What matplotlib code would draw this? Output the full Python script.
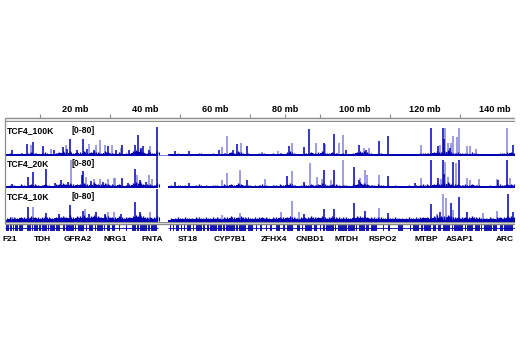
import numpy as np
import matplotlib.pyplot as plt

W, H = 520, 350
CHR_LEN = 145.7
GAP = (43.7, 46.6)

DARK = '#0000b2'
LIGHT = '#8282da'
GREY = '#8c8c8c'
FONT = ['Liberation Sans Narrow', 'Liberation Sans', 'DejaVu Sans']

ruler_labels = [20, 40, 60, 80, 100, 120, 140]
ruler_ticks = [10, 30, 50, 70, 80, 90, 110, 130]

track_names = ['TCF4_100K', 'TCF4_20K', 'TCF4_10K']
track_range = '[0-80]'

# background signal, one value per mb (0 = no data)
bg_100k = [3, 5, 4, 3, 6, 4, 5, 8, 6, 4,
           5, 7, 4, 3, 6, 8, 9, 7, 10, 6,
           8, 7, 9, 6, 8, 10, 7, 6, 9, 8,
           6, 5, 7, 4, 5, 6, 9, 12, 14, 8,
           6, 7, 5, 9, 0, 0, 0, 4, 3, 5,
           3, 4, 3, 2, 4, 6, 3, 4, 3, 5,
           4, 3, 6, 4, 8, 5, 9, 7, 4, 5,
           3, 4, 5, 6, 4, 3, 5, 4, 6, 4,
           7, 9, 5, 3, 4, 6, 4, 8, 5, 7,
           9, 6, 5, 8, 6, 4, 5, 4, 3, 6,
           8, 11, 9, 7, 5, 4, 6, 5, 3, 4,
           3, 4, 3, 2, 3, 4, 3, 4, 5, 6,
           6, 5, 8, 10, 7, 9, 12, 8, 6, 7,
           5, 6, 4, 7, 5, 4, 3, 3, 4, 3,
           4, 6, 5, 7, 8, 6]
bg_20k = [4, 6, 5, 4, 7, 5, 6, 9, 7, 5,
          6, 8, 5, 4, 7, 9, 10, 8, 11, 7,
          9, 8, 10, 7, 9, 12, 8, 7, 10, 9,
          7, 6, 8, 5, 6, 7, 10, 13, 15, 9,
          7, 8, 6, 10, 0, 0, 0, 5, 4, 6,
          4, 5, 4, 3, 5, 7, 4, 5, 4, 6,
          5, 4, 7, 5, 9, 6, 10, 8, 5, 6,
          4, 5, 6, 7, 5, 4, 6, 5, 7, 5,
          8, 10, 6, 4, 5, 7, 5, 9, 6, 8,
          10, 7, 6, 9, 7, 5, 6, 5, 4, 7,
          9, 12, 10, 8, 6, 5, 7, 6, 4, 5,
          4, 5, 4, 3, 4, 5, 4, 5, 6, 7,
          7, 6, 9, 11, 8, 10, 13, 9, 7, 8,
          6, 7, 5, 8, 6, 5, 4, 4, 5, 4,
          5, 7, 6, 8, 9, 7]
bg_10k = [8, 10, 9, 8, 11, 9, 10, 12, 11, 9,
          10, 12, 9, 8, 11, 13, 12, 11, 14, 10,
          13, 12, 14, 11, 13, 15, 12, 11, 14, 13,
          11, 10, 12, 9, 10, 11, 13, 15, 17, 12,
          10, 11, 10, 13, 0, 0, 0, 8, 7, 9,
          8, 9, 8, 7, 9, 10, 8, 9, 8, 10,
          9, 8, 10, 9, 12, 10, 11, 12, 9, 10,
          8, 9, 10, 11, 9, 8, 10, 9, 11, 9,
          11, 12, 10, 8, 9, 11, 9, 12, 10, 11,
          12, 10, 9, 12, 10, 9, 10, 9, 8, 11,
          12, 13, 12, 11, 10, 9, 10, 9, 8, 9,
          8, 9, 8, 7, 8, 9, 8, 9, 10, 11,
          11, 10, 12, 14, 12, 13, 15, 12, 10, 11,
          10, 11, 9, 12, 10, 9, 8, 8, 9, 8,
          9, 11, 10, 12, 13, 11]

# peaks as (position mb, signal)
peaks_100k_dark = [(1.9, 15), (6.4, 33), (7.9, 38), (10.9, 27), (14.0, 14), (16.5, 24),
                   (17.8, 18), (18.6, 46), (20.5, 15), (22.2, 45), (23.5, 18), (25.3, 16),
                   (29.5, 25), (31.8, 15), (33.3, 29), (35.5, 14), (37.0, 30), (38.1, 57),
                   (38.8, 22), (39.5, 25), (41.0, 15), (43.3, 80), (48.5, 12), (52.5, 12),
                   (61.0, 14), (65.0, 14), (66.2, 31), (69.0, 25), (81.0, 27), (85.5, 24),
                   (86.9, 75), (91.0, 36), (94.1, 61), (97.5, 14), (101.2, 29),
                   (103.0, 16), (106.9, 40), (109.5, 54), (121.6, 77), (123.8, 25),
                   (125.2, 77), (125.4, 45), (127.0, 20), (145.2, 30)]
peaks_100k_light = [(7.4, 30), (13.0, 18), (17.3, 29), (24.0, 32), (26.0, 30), (27.1, 42),
                    (28.5, 30), (30.5, 28), (33.0, 20), (41.5, 25), (61.9, 24), (63.3, 54),
                    (67.3, 36), (73.5, 10), (78.0, 12), (81.9, 36), (88.9, 36), (91.3, 32),
                    (95.5, 36), (96.5, 57), (102.5, 22), (104.0, 22), (118.8, 29),
                    (124.2, 30), (125.7, 77), (126.7, 36), (127.3, 36), (128.1, 54),
                    (129.0, 52), (129.8, 77), (131.9, 27), (132.8, 27), (134.5, 18),
                    (143.5, 77)]
peaks_20k_dark = [(1.9, 10), (6.5, 30), (8.1, 45), (11.6, 55), (14.2, 14), (16.0, 20),
                  (18.0, 16), (21.9, 35), (22.4, 47), (24.5, 18), (28.0, 16), (33.3, 27),
                  (35.0, 14), (37.1, 53), (38.6, 22), (40.2, 15), (43.3, 110), (48.5, 17),
                  (52.5, 12), (69.0, 20), (80.7, 33), (85.5, 17), (91.2, 50), (94.1, 50),
                  (99.8, 60), (101.0, 20), (109.5, 33), (117.0, 12), (121.6, 80),
                  (123.8, 27), (125.2, 80), (125.4, 40), (127.9, 75), (129.8, 80),
                  (140.8, 20), (143.5, 80)]
peaks_20k_light = [(18.9, 80), (23.0, 30), (25.5, 25), (27.0, 23), (29.5, 25), (31.0, 27),
                   (31.5, 27), (37.8, 37), (41.0, 37), (42.0, 23), (62.0, 20), (63.3, 43),
                   (67.1, 50), (74.3, 23), (81.9, 47), (87.1, 70), (89.0, 30), (90.5, 23),
                   (93.0, 20), (96.5, 80), (101.5, 27), (102.9, 50), (103.5, 37),
                   (106.9, 37), (118.8, 27), (124.5, 23), (125.7, 75), (126.7, 30),
                   (128.9, 70), (131.9, 27), (132.8, 20), (135.5, 23), (140.5, 23),
                   (144.4, 27)]
peaks_10k_dark = [(6.5, 43), (11.6, 23), (15.5, 20), (18.6, 48), (22.2, 30), (24.0, 22),
                  (26.0, 26), (28.5, 20), (33.0, 20), (37.1, 55), (38.5, 28), (43.3, 110),
                  (85.5, 20), (91.0, 36), (94.1, 36), (99.8, 53), (102.9, 30), (109.5, 23),
                  (121.6, 50), (124.2, 26), (127.4, 53), (129.8, 71), (132.0, 28),
                  (143.8, 80), (145.2, 26)]
peaks_10k_light = [(2.0, 13), (7.9, 43), (22.9, 36), (29.5, 28), (31.0, 28), (41.5, 28),
                   (62.0, 18), (67.1, 23), (78.9, 26), (81.9, 60), (84.0, 28), (106.9, 40),
                   (123.5, 22), (125.2, 80), (125.9, 68), (128.0, 33), (136.5, 23),
                   (140.7, 30)]

# RefSeq gene blocks (start, end) in mb
genes = [(0.2, 1.0), (1.3, 1.9), (2.2, 2.6), (2.9, 3.8), (4.1, 5.2),
         (6.2, 7.3), (7.6, 8.0), (8.3, 9.5), (9.8, 10.2), (10.5, 11.9), (12.2, 12.6),
         (12.9, 14.2), (14.5, 15.7), (16.5, 17.0), (17.4, 19.6), (19.9, 20.4),
         (20.8, 22.6), (23.0, 23.5), (23.9, 25.2), (25.6, 26.0), (26.4, 27.9),
         (28.3, 28.6), (29.0, 30.1), (30.6, 31.4), (32.5, 32.8), (34.5, 34.8),
         (36.2, 37.5), (37.8, 38.3), (38.7, 40.6), (40.9, 41.3), (41.7, 43.3),
         (47.1, 47.5), (48.0, 48.3), (48.9, 49.6), (50.2, 50.5), (51.0, 51.4),
         (51.9, 53.2), (53.6, 54.0), (54.5, 56.3), (56.7, 57.1), (57.6, 58.2),
         (58.6, 60.5), (60.9, 62.0), (62.4, 62.8), (63.2, 65.6), (66.0, 66.5),
         (66.9, 68.8), (69.3, 70.9), (71.6, 72.0), (72.8, 73.4), (74.6, 74.9),
         (75.8, 76.2), (77.4, 78.6), (79.5, 80.0), (80.6, 82.3), (83.3, 84.4),
         (84.9, 85.2), (85.8, 87.6), (88.2, 89.0), (90.0, 90.4), (90.9, 91.4),
         (91.8, 93.9), (94.3, 94.7), (95.1, 97.6), (98.0, 99.9), (100.4, 100.7),
         (101.1, 102.8), (103.2, 104.0), (104.5, 106.2), (108.0, 108.2),
         (109.5, 110.0), (112.3, 113.7), (115.7, 116.0), (116.5, 118.4),
         (118.9, 119.3), (119.7, 121.8), (122.4, 123.2), (123.8, 124.5),
         (125.0, 127.1), (127.6, 128.0), (128.4, 130.9), (131.3, 131.7),
         (132.1, 133.8), (134.3, 135.6), (136.0, 136.3), (136.8, 139.0),
         (139.5, 140.6), (141.4, 142.2), (142.6, 145.1)]
gene_names = ['F21', 'TDH', 'GFRA2', 'NRG1', 'FNTA', 'ST18', 'CYP7B1', 'ZFHX4',
              'CNBD1', 'MTDH', 'RSPO2', 'MTBP', 'ASAP1', 'ARC']
gene_label_pos = [1.4, 10.6, 20.9, 31.4, 42.0, 52.3, 64.3, 76.9, 87.1, 97.7,
                  108.0, 120.3, 130.0, 142.9]

tracks = [(bg_100k, peaks_100k_dark, peaks_100k_light),
          (bg_20k, peaks_20k_dark, peaks_20k_light),
          (bg_10k, peaks_10k_dark, peaks_10k_light)]
# pixel extents of each track panel and its y limits
track_px = [(122, 156), (156, 189), (189, 222)]
track_ylim = [(-2, 94), (-5, 92), (-3, 95)]
label_y = [130.3, 163.3, 196.5]

fig = plt.figure(figsize=(W / 100, H / 100), dpi=100)


def px_axes(x0, y0, x1, y1):
    ax = fig.add_axes([x0 / W, 1 - y1 / H, (x1 - x0) / W, (y1 - y0) / H])
    ax.set_axis_off()
    return ax


X0, X1 = 5, 515
segments = [(0, GAP[0]), (GAP[1], CHR_LEN)]

# ruler
ax = px_axes(X0, 100, X1, 122)
ax.set_xlim(0, CHR_LEN)
ax.set_ylim(22, 0)
ax.hlines([18, 21], 0, CHR_LEN, color=GREY, lw=1.0)
ax.vlines(ruler_ticks, 13.5, 18, color=GREY, lw=0.8)
for v in ruler_labels:
    ax.text(v, 10, f'{v} mb', ha='center', va='center', fontsize=6.6,
            fontweight='bold', family=FONT)

# signal tracks
mb = np.arange(len(bg_100k)) + 0.5
for i, (bg, dark, light) in enumerate(tracks):
    ax = px_axes(X0, track_px[i][0], X1, track_px[i][1])
    ax.set_xlim(0, CHR_LEN)
    ax.set_ylim(*track_ylim[i])
    bg = np.array(bg, dtype=float)
    ok = bg > 0
    lp = np.array(light)
    dp = np.array(dark)
    ax.vlines(lp[:, 0], 0, lp[:, 1], color=LIGHT, lw=1.1)
    # dense low-level signal: a stepped floor plus thin spikes
    for s, e in segments:
        m = (mb > s) & (mb < e)
        ax.fill_between(mb[m], 0, bg[m] * 0.7, step='mid', color=DARK, lw=0)
    ax.vlines(mb[ok], 0, bg[ok] * 1.2, color=DARK, lw=1.0)
    ax.vlines(mb[ok] + 0.45, 0, bg[ok] * 0.9, color=DARK, lw=0.8)
    ax.vlines(dp[:, 0], 0, dp[:, 1], color=DARK, lw=1.1)
    for s, e in segments:
        ax.hlines(0.5, s, e, color=DARK, lw=1.4)
    if i == 0:
        ax.hlines(0, GAP[0], GAP[1], color=LIGHT, lw=0.8)
    fig.text(7 / W, 1 - label_y[i] / H, track_names[i], ha='left', va='center',
             fontsize=6.2, fontweight='bold', family=FONT)
    fig.text(72 / W, 1 - label_y[i] / H, track_range, ha='left', va='center',
             fontsize=6.2, fontweight='bold', family=FONT)

# gene track
ax = px_axes(X0, 222, X1, 246)
ax.set_xlim(0, CHR_LEN)
ax.set_ylim(24, 0)
ax.hlines([0.2, 2.0], 0, CHR_LEN, color=GREY, lw=1.0)
for s, e in segments:
    ax.hlines(6.2, s, e, color=DARK, lw=0.6)
for s, e in genes:
    ax.fill_between([s, e], 3.2, 9.4, color='#1c1cb0', lw=0)
for name, pos in zip(gene_names, gene_label_pos):
    ax.text(pos, 17.5, name, ha='center', va='center', fontsize=6.0,
            fontweight='bold', family=FONT)

# left edge of the panel
edge = px_axes(0, 0, W, H)
edge.set_xlim(0, W)
edge.set_ylim(H, 0)
edge.vlines(X0, 118, 224, color=GREY, lw=0.9)

fig.savefig('out.png', dpi=100)
